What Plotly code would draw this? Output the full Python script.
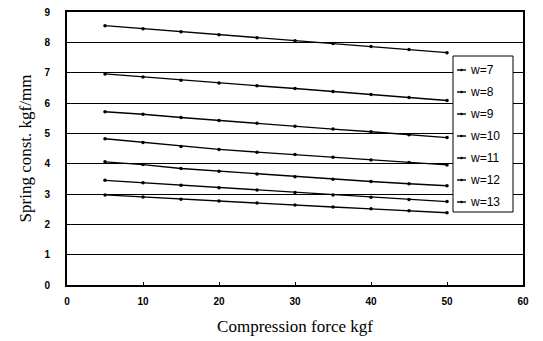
import plotly.graph_objects as go

force = [5, 10, 15, 20, 25, 30, 35, 40, 45, 50]

w7 = [8.55, 8.45, 8.35, 8.25, 8.15, 8.05, 7.96, 7.86, 7.76, 7.66]
w8 = [6.96, 6.86, 6.75, 6.66, 6.57, 6.48, 6.38, 6.28, 6.18, 6.08]
w9 = [5.71, 5.63, 5.52, 5.42, 5.33, 5.23, 5.14, 5.05, 4.95, 4.86]
w10 = [4.82, 4.70, 4.57, 4.47, 4.38, 4.30, 4.21, 4.12, 4.04, 3.96]
w11 = [4.06, 3.97, 3.84, 3.75, 3.66, 3.57, 3.49, 3.41, 3.34, 3.27]
w12 = [3.45, 3.37, 3.29, 3.21, 3.13, 3.05, 2.97, 2.89, 2.82, 2.75]
w13 = [2.97, 2.90, 2.83, 2.77, 2.70, 2.64, 2.57, 2.51, 2.45, 2.38]

series_names = ["w=7", "w=8", "w=9", "w=10", "w=11", "w=12", "w=13"]
series_values = [w7, w8, w9, w10, w11, w12, w13]

x_ticks = [0, 10, 20, 30, 40, 50, 60]
y_ticks = [0, 1, 2, 3, 4, 5, 6, 7, 8, 9]

FIG_W, FIG_H = 543, 341
M_L, M_R, M_T, M_B = 67, 20, 12, 56
PLOT_W = FIG_W - M_L - M_R
PLOT_H = FIG_H - M_T - M_B

fig = go.Figure()
for name, vals in zip(series_names, series_values):
    fig.add_trace(go.Scatter(
        x=force, y=vals, name=name, mode="lines+markers",
        line=dict(color="black", width=1.4),
        marker=dict(color="black", size=3.5),
        showlegend=False,
    ))

# hand-built legend box (layout positions in plot-pixel offsets)
LEG_L, LEG_R, LEG_T, LEG_B = 386, 446, 44, 200
ROW0, ROW_STEP = 14, 22


def px_x(p):
    return p / PLOT_W


def px_y(p):
    return 1 - p / PLOT_H


shapes = [dict(type="rect", xref="paper", yref="paper",
               x0=px_x(LEG_L), x1=px_x(LEG_R), y0=px_y(LEG_B), y1=px_y(LEG_T),
               line=dict(color="black", width=1), fillcolor="white", layer="above")]
annotations = []
for i, name in enumerate(series_names):
    ry = LEG_T + ROW0 + i * ROW_STEP
    shapes.append(dict(type="line", xref="paper", yref="paper",
                       x0=px_x(LEG_L + 4), x1=px_x(LEG_L + 13), y0=px_y(ry), y1=px_y(ry),
                       line=dict(color="black", width=1.4), layer="above"))
    shapes.append(dict(type="circle", xref="paper", yref="paper",
                       x0=px_x(LEG_L + 7.2), x1=px_x(LEG_L + 9.8),
                       y0=px_y(ry + 1.3), y1=px_y(ry - 1.3),
                       line=dict(color="black", width=0), fillcolor="black", layer="above"))
    annotations.append(dict(text=name, xref="paper", yref="paper",
                            x=px_x(LEG_L + 15), y=px_y(ry), xanchor="left", yanchor="middle",
                            showarrow=False,
                            font=dict(family="Liberation Sans", size=12, color="black")))

fig.update_layout(
    width=FIG_W, height=FIG_H,
    margin=dict(l=M_L, r=M_R, t=M_T, b=M_B),
    paper_bgcolor="white", plot_bgcolor="white",
    showlegend=False,
    shapes=shapes, annotations=annotations,
    xaxis=dict(
        range=[0, 60], tickvals=x_ticks, ticktext=[str(v) for v in x_ticks],
        showgrid=False, zeroline=False, automargin=False,
        showline=True, linecolor="black", linewidth=2, mirror=True,
        ticks="inside", ticklen=3, tickcolor="black", ticklabelstandoff=6,
        tickfont=dict(family="Liberation Sans", size=10, color="black", weight="bold"),
        title=dict(text="Compression force kgf", standoff=14,
                   font=dict(family="Liberation Serif", size=17, color="black")),
    ),
    yaxis=dict(
        range=[0, 9], tickvals=y_ticks, ticktext=[str(v) for v in y_ticks],
        showgrid=True, gridcolor="black", gridwidth=1.2, zeroline=False, automargin=False,
        showline=True, linecolor="black", linewidth=2, mirror=True,
        ticks="inside", ticklen=3, tickcolor="black", ticklabelstandoff=13,
        tickfont=dict(family="Liberation Sans", size=10, color="black", weight="bold"),
        title=dict(text="Spring const. kgf/mm", standoff=8,
                   font=dict(family="Liberation Serif", size=17, color="black")),
    ),
)

fig.write_html("out.html", config={"displayModeBar": False},
               post_script="document.body.style.margin='0';")
